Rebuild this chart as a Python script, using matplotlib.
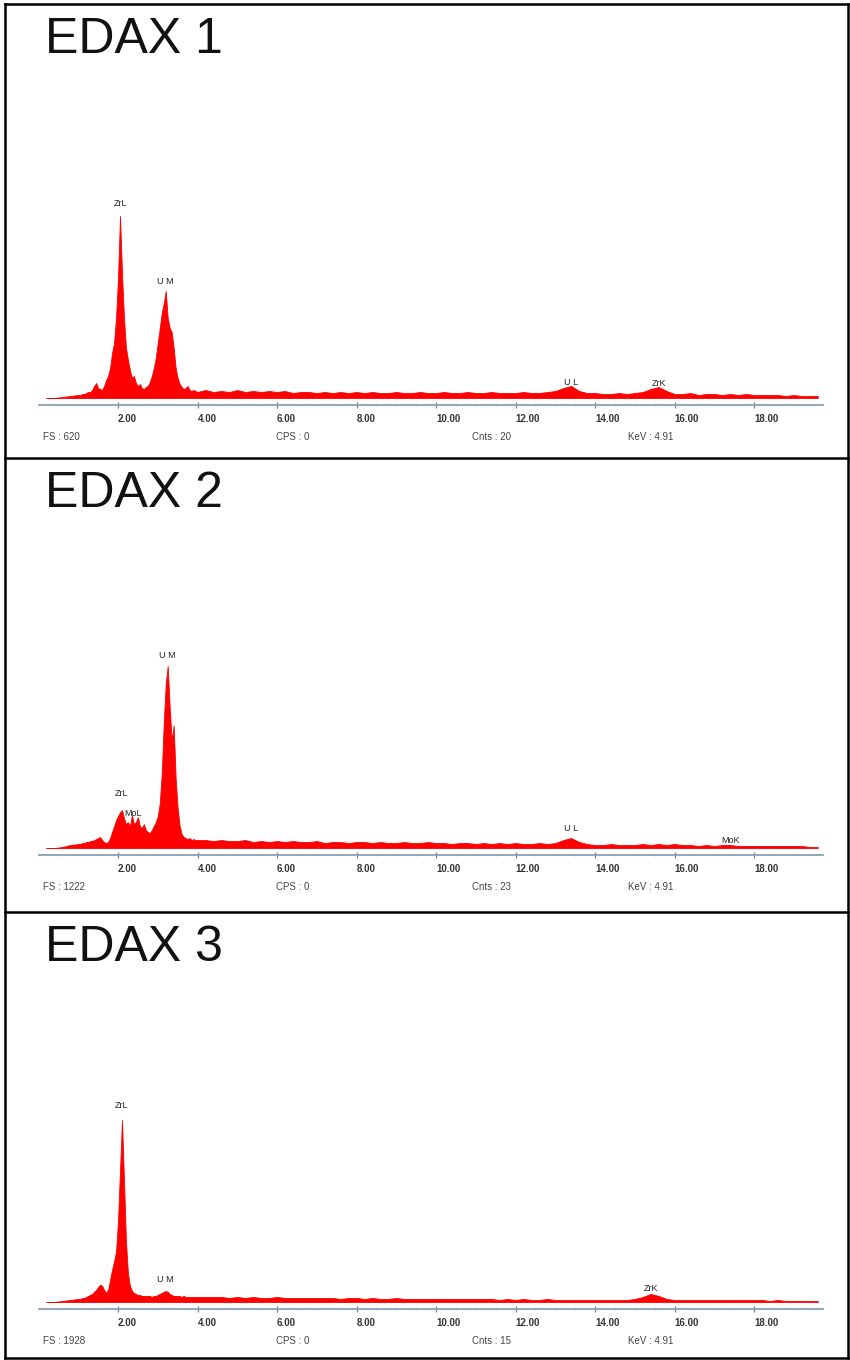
import numpy as np
import matplotlib
matplotlib.use("Agg")
import matplotlib.pyplot as plt
from matplotlib.lines import Line2D

plt.rcParams['font.family'] = ['Liberation Sans', 'DejaVu Sans']

# Energy channels (keV): coarse below 1 keV, fine across the L/M lines, coarse tail
energy = np.concatenate([
    np.arange(0.2, 0.9, 0.2),       # 0.2 .. 0.8
    np.arange(1.0, 4.001, 0.05),    # 1.00 .. 4.00
    np.arange(4.2, 19.601, 0.2),    # 4.2 .. 19.6
])

titles = ['EDAX 1', 'EDAX 2', 'EDAX 3']

counts_1 = [
    0, 0, 2, 4,
    6, 6, 8, 8, 10, 12, 12, 16, 24, 30,
    20, 18, 16, 24, 36, 44, 60, 90, 110, 160,
    240, 364, 250, 160, 100, 76, 56, 40, 44, 30,
    24, 28, 20, 18, 22, 24, 32, 44, 60, 80,
    110, 140, 170, 190, 214, 160, 140, 132, 100, 60,
    40, 28, 22, 18, 20, 24, 16, 14, 16, 14,
    12,
    16, 12, 14, 12, 16, 12, 14, 12, 14, 12,
    14, 10, 12, 12, 10, 12, 10, 12, 10, 12,
    10, 12, 10, 10, 12, 10, 10, 12, 10, 10,
    12, 10, 10, 12, 10, 10, 12, 10, 10, 10,
    12, 10, 10, 12, 14, 20, 24, 14, 10, 10,
    8, 8, 10, 8, 10, 12, 18, 22, 14, 8,
    8, 10, 6, 8, 8, 6, 8, 6, 8, 6,
    6, 6, 6, 4, 6, 4, 4, 4,
]

counts_2 = [
    0, 0, 4, 12,
    16, 16, 20, 20, 24, 24, 28, 28, 32, 36,
    40, 44, 32, 24, 20, 24, 40, 64, 88, 112,
    128, 144, 152, 120, 96, 104, 88, 132, 96, 104,
    124, 88, 80, 96, 72, 64, 60, 72, 88, 104,
    128, 180, 300, 500, 660, 732, 564, 432, 492, 280,
    160, 88, 56, 44, 40, 36, 40, 32, 36, 32,
    32,
    32, 28, 32, 28, 28, 32, 24, 28, 24, 28,
    24, 28, 24, 24, 28, 20, 24, 24, 20, 24,
    24, 20, 24, 20, 20, 24, 20, 20, 24, 20,
    20, 16, 20, 20, 16, 20, 16, 20, 16, 20,
    16, 16, 20, 16, 20, 32, 40, 24, 16, 12,
    12, 16, 12, 12, 12, 16, 12, 16, 12, 16,
    12, 12, 8, 12, 8, 12, 12, 8, 8, 8,
    8, 8, 8, 8, 8, 8, 4, 4,
]

counts_3 = [
    0, 0, 6, 12,
    18, 18, 24, 24, 30, 36, 42, 48, 60, 72,
    90, 102, 96, 72, 54, 72, 132, 192, 240, 300,
    480, 780, 1080, 720, 360, 168, 96, 66, 54, 48,
    42, 42, 36, 36, 36, 36, 36, 30, 36, 36,
    42, 48, 54, 60, 66, 60, 48, 42, 36, 36,
    36, 36, 30, 36, 30, 30, 30, 30, 30, 30,
    30,
    30, 30, 30, 24, 30, 24, 30, 24, 24, 30,
    24, 24, 24, 24, 24, 24, 24, 18, 24, 24,
    18, 24, 18, 18, 24, 18, 18, 18, 18, 18,
    18, 18, 18, 18, 18, 18, 18, 12, 18, 12,
    18, 12, 12, 18, 12, 12, 12, 12, 12, 12,
    12, 12, 12, 12, 18, 30, 48, 36, 18, 12,
    12, 12, 12, 12, 12, 12, 12, 12, 12, 12,
    12, 6, 12, 6, 6, 6, 6, 6,
]

spectra = [counts_1, counts_2, counts_3]

# Line identifications: (label, energy in keV)
lines_1 = [('ZrL', 2.05), ('U M', 3.2), ('U L', 13.4), ('ZrK', 15.6)]
lines_2 = [('U M', 3.25), ('ZrL', 2.1), ('MoL', 2.38), ('U L', 13.4), ('MoK', 17.4)]
lines_3 = [('ZrL', 2.1), ('U M', 3.2), ('ZrK', 15.4)]
peak_lines = [lines_1, lines_2, lines_3]

fs_values = [620, 1222, 1928]
cps_values = [0, 0, 0]
cnts_values = [20, 23, 15]
kev_values = [4.91, 4.91, 4.91]

# label lift above the peak top, in pixels
label_lift = [
    [13, 10, 4, 4],
    [10, 17, 2, 10, 5],
    [14, 11, 5],
]

W, H = 850, 1360
fig = plt.figure(figsize=(W / 100, H / 100), dpi=100)


def fx(px):
    return px / W


def fy(py):
    return 1 - py / H


panel_tops = [4, 458, 912]
axis_rows = [405, 855, 1309]
axis_col = '#8a9fb2'
red = '#ff0000'

for i in range(3):
    counts = np.array(spectra[i], dtype=float)
    ax = fig.add_axes([fx(38.5), fy(axis_rows[i]), fx(784), 300 / H])
    ax.patch.set_alpha(0)

    # tallest peak sits ~182 px above the baseline, baseline 7 px above the axis
    cpp = counts.max() / 182
    ax.set_ylim(-7 * cpp, 293 * cpp)
    ax.set_xlim(0, 19.72)

    ax.fill_between(energy, counts, 0, color=red, lw=0.6, edgecolor=red)

    for s in ['top', 'left', 'right']:
        ax.spines[s].set_visible(False)
    ax.spines['bottom'].set_color(axis_col)
    ax.spines['bottom'].set_linewidth(1.3)
    ax.set_yticks([])

    ticks = np.arange(2, 19, 2)
    ax.set_xticks(ticks)
    ax.set_xticklabels([f'{t:.2f}' for t in ticks])
    ax.set_xticks(np.arange(0.5, 19.7, 0.5), minor=True)
    ax.tick_params(axis='x', which='major', direction='inout', length=5,
                   width=0.9, color='#6f8090', pad=4, labelsize=7,
                   labelcolor='#333333')
    ax.tick_params(axis='x', which='minor', direction='inout', length=2,
                   width=0.5, color='#9aaabb')
    for lbl in ax.get_xticklabels():
        lbl.set_ha('left')
        lbl.set_fontweight('bold')

    # peak identifications
    for (name, e), lift in zip(peak_lines[i], label_lift[i]):
        near = (energy > e - 0.16) & (energy < e + 0.16)
        top = counts[near].max()
        ax.annotate(name, (e, top), xytext=(0, lift * 0.72),
                    textcoords='offset points', ha='center', va='center',
                    fontsize=6.5, color='#222222')

    # status line under the axis
    yrow = fy(axis_rows[i] + 32)
    stats = [(43, f'FS : {fs_values[i]}'), (276, f'CPS : {cps_values[i]}'),
             (472, f'Cnts : {cnts_values[i]}'), (628, f'KeV : {kev_values[i]:.2f}')]
    for xp, s in stats:
        fig.text(fx(xp), yrow, s, fontsize=7, color='#444444',
                 ha='left', va='center')

    fig.text(fx(45), fy(panel_tops[i] + 49), titles[i], fontsize=36,
             color='#111111', ha='left', va='baseline')

# panel frames
frame = dict(color='black', lw=1.8, transform=fig.transFigure)
fig.add_artist(Line2D([fx(5), fx(5)], [fy(4), fy(1358)], **frame))
fig.add_artist(Line2D([fx(848), fx(848)], [fy(4), fy(1358)], **frame))
for yy in [4, 458, 912, 1358]:
    fig.add_artist(Line2D([fx(5), fx(848)], [fy(yy), fy(yy)], **frame))

fig.savefig('out.png', dpi=100)
